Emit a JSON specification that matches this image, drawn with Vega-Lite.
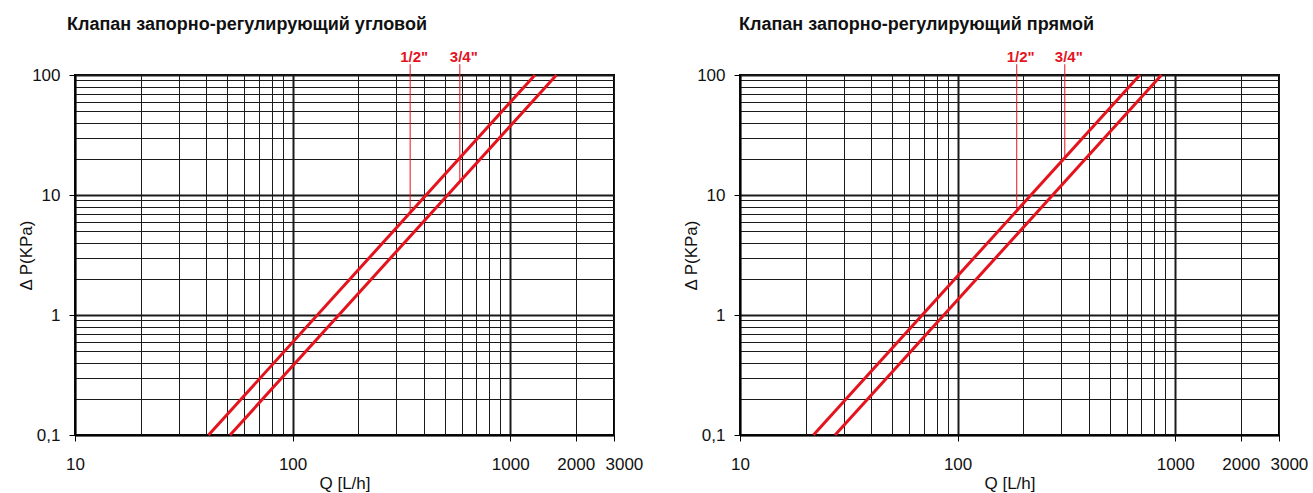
{
  "$schema": "https://vega.github.io/schema/vega-lite/v6.json",
  "background": "#ffffff",
  "padding": {"left": 16, "top": 14, "right": 2, "bottom": 2},
  "bounds": "flush",
  "spacing": 126,
  "config": {
    "font": "Liberation Sans",
    "view": {"stroke": "#000000", "strokeWidth": 2},
    "axis": {
      "domainColor": "#000000",
      "domainWidth": 1.5,
      "gridColor": "#1a1a1a",
      "gridWidth": {"condition": {"test": "indexof([0.1,1,10,100,1000], datum.value) >= 0", "value": 2}, "value": 1},
      "gridOpacity": 1,
      "tickColor": "#000000",
      "labelColor": "#111111",
      "labelFont": "Liberation Sans",
      "labelFontSize": 17,
      "titleFont": "Liberation Sans",
      "titleFontSize": 17,
      "titleFontWeight": "normal",
      "titleColor": "#111111",
      "labelOverlap": false,
      "labelFlush": false
    },
    "title": {"font": "Liberation Sans", "fontSize": 18, "fontWeight": "bold", "color": "#111111", "anchor": "start", "frame": "group", "offset": 16}
  },
  "datasets": {
    "curvesA": [
      {"size": "1/2\"", "Q": 41.1, "dP": 0.1},
      {"size": "1/2\"", "Q": 1300, "dP": 100},
      {"size": "3/4\"", "Q": 51.6, "dP": 0.1},
      {"size": "3/4\"", "Q": 1632, "dP": 100}
    ],
    "markersA": [
      {"size": "1/2\"", "Q": 347, "top": 123, "bottom": 7.13, "labelY": 142},
      {"size": "3/4\"", "Q": 587, "top": 123, "bottom": 12.9, "labelY": 142}
    ],
    "curvesB": [
      {"size": "1/2\"", "Q": 21.75, "dP": 0.1},
      {"size": "1/2\"", "Q": 688, "dP": 100},
      {"size": "3/4\"", "Q": 27.35, "dP": 0.1},
      {"size": "3/4\"", "Q": 865, "dP": 100}
    ],
    "markersB": [
      {"size": "1/2\"", "Q": 187, "top": 123, "bottom": 7.39, "labelY": 142},
      {"size": "3/4\"", "Q": 311, "top": 123, "bottom": 20.4, "labelY": 142}
    ]
  },
  "hconcat": [
    {
      "title": {"text": "Клапан запорно-регулирующий угловой", "dx": -8},
      "width": 539,
      "height": 360,
      "layer": [
        {
          "data": {"name": "curvesA"},
          "mark": {"type": "line", "color": "#e4141e", "strokeWidth": 3},
          "encoding": {
            "x": {"field": "Q", "type": "quantitative",
              "scale": {"type": "log", "domain": [10, 3000], "nice": false, "zero": false},
              "axis": {"title": "Q [L/h]", "titlePadding": 3,
                "values": [10,20,30,40,50,60,70,80,90,100,200,300,400,500,600,700,800,900,1000,2000,3000],
                "labelExpr": "indexof([10,100,1000,2000,3000], datum.value) >= 0 ? '' + datum.value : ''",
                "labelAlign": {"condition": {"test": "datum.value == 3000", "value": "left"}, "value": "center"},
                "labelOffset": {"condition": {"test": "datum.value == 3000", "value": -9}, "value": 0},
                "tickSize": 6,
                "tickOpacity": {"condition": {"test": "indexof([10,100,1000,2000,3000], datum.value) >= 0", "value": 1}, "value": 0},
                "labelPadding": 15}},
            "y": {"field": "dP", "type": "quantitative",
              "scale": {"type": "log", "domain": [0.1, 100], "nice": false, "zero": false},
              "axis": {"title": "Δ P(KPa)", "titlePadding": -4,
                "values": [0.1,0.2,0.3,0.4,0.5,0.6,0.7,0.8,0.9,1,2,3,4,5,6,7,8,9,10,20,30,40,50,60,70,80,90,100],
                "labelExpr": "datum.value == 0.1 ? '0,1' : (indexof([1,10,100], datum.value) >= 0 ? '' + datum.value : '')",
                "tickSize": 6,
                "tickOpacity": {"condition": {"test": "indexof([0.1,1,10,100], datum.value) >= 0", "value": 1}, "value": 0},
                "labelPadding": 9}},
            "detail": {"field": "size", "type": "nominal"}
          }
        },
        {
          "data": {"name": "markersA"},
          "mark": {"type": "rule", "color": "#e4141e", "strokeWidth": 1},
          "encoding": {
            "x": {"field": "Q", "type": "quantitative"},
            "y": {"field": "top", "type": "quantitative"},
            "y2": {"field": "bottom"}
          }
        },
        {
          "data": {"name": "markersA"},
          "mark": {"type": "text", "color": "#e4141e", "fontSize": 15, "fontWeight": "bold", "font": "Liberation Sans", "dx": 4, "baseline": "middle"},
          "encoding": {
            "x": {"field": "Q", "type": "quantitative"},
            "y": {"field": "labelY", "type": "quantitative"},
            "text": {"field": "size"}
          }
        }
      ]
    },
    {
      "title": {"text": "Клапан запорно-регулирующий прямой", "dx": -1},
      "width": 539,
      "height": 360,
      "layer": [
        {
          "data": {"name": "curvesB"},
          "mark": {"type": "line", "color": "#e4141e", "strokeWidth": 3},
          "encoding": {
            "x": {"field": "Q", "type": "quantitative",
              "scale": {"type": "log", "domain": [10, 3000], "nice": false, "zero": false},
              "axis": {"title": "Q [L/h]", "titlePadding": 3,
                "values": [10,20,30,40,50,60,70,80,90,100,200,300,400,500,600,700,800,900,1000,2000,3000],
                "labelExpr": "indexof([10,100,1000,2000,3000], datum.value) >= 0 ? '' + datum.value : ''",
                "labelAlign": {"condition": {"test": "datum.value == 3000", "value": "left"}, "value": "center"},
                "labelOffset": {"condition": {"test": "datum.value == 3000", "value": -9}, "value": 0},
                "tickSize": 6,
                "tickOpacity": {"condition": {"test": "indexof([10,100,1000,2000,3000], datum.value) >= 0", "value": 1}, "value": 0},
                "labelPadding": 15}},
            "y": {"field": "dP", "type": "quantitative",
              "scale": {"type": "log", "domain": [0.1, 100], "nice": false, "zero": false},
              "axis": {"title": "Δ P(KPa)", "titlePadding": -4,
                "values": [0.1,0.2,0.3,0.4,0.5,0.6,0.7,0.8,0.9,1,2,3,4,5,6,7,8,9,10,20,30,40,50,60,70,80,90,100],
                "labelExpr": "datum.value == 0.1 ? '0,1' : (indexof([1,10,100], datum.value) >= 0 ? '' + datum.value : '')",
                "tickSize": 6,
                "tickOpacity": {"condition": {"test": "indexof([0.1,1,10,100], datum.value) >= 0", "value": 1}, "value": 0},
                "labelPadding": 9}},
            "detail": {"field": "size", "type": "nominal"}
          }
        },
        {
          "data": {"name": "markersB"},
          "mark": {"type": "rule", "color": "#e4141e", "strokeWidth": 1},
          "encoding": {
            "x": {"field": "Q", "type": "quantitative"},
            "y": {"field": "top", "type": "quantitative"},
            "y2": {"field": "bottom"}
          }
        },
        {
          "data": {"name": "markersB"},
          "mark": {"type": "text", "color": "#e4141e", "fontSize": 15, "fontWeight": "bold", "font": "Liberation Sans", "dx": 4, "baseline": "middle"},
          "encoding": {
            "x": {"field": "Q", "type": "quantitative"},
            "y": {"field": "labelY", "type": "quantitative"},
            "text": {"field": "size"}
          }
        }
      ]
    }
  ]
}
